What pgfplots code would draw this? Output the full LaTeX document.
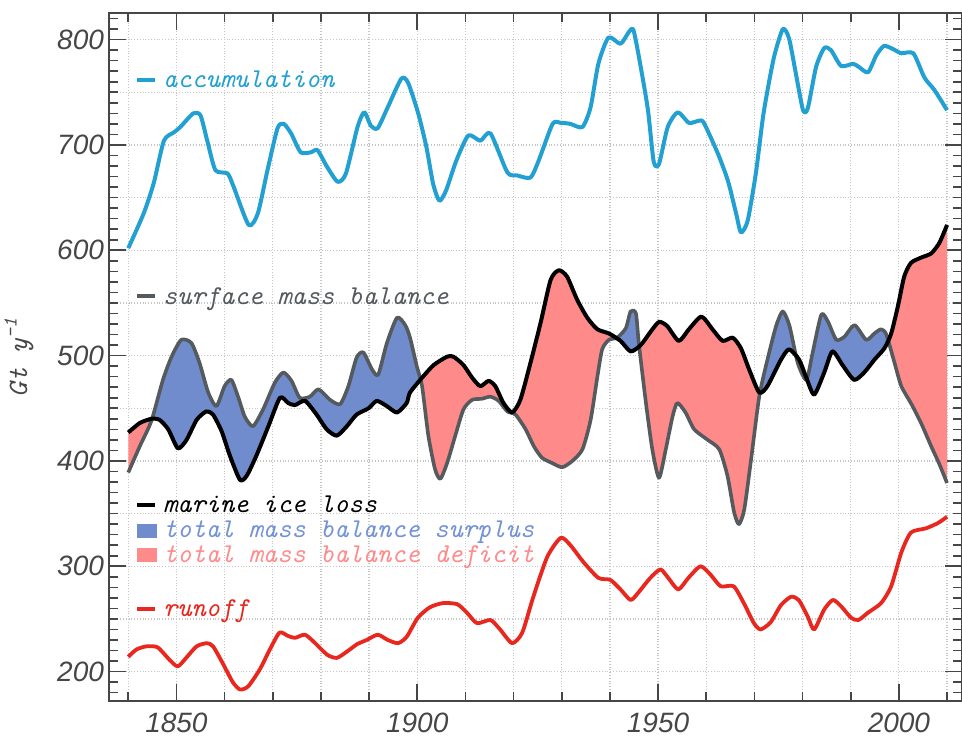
\documentclass[border=0pt]{standalone}
\usepackage{fontspec}
\usepackage{pgfplots}
\pgfplotsset{compat=1.18}
\usepackage{pgfplotstable}
\usepgfplotslibrary{fillbetween}
\newfontfamily\tickfont{Liberation Sans}
\newcommand{\legfont}{\ttfamily\itshape\fontsize{13.6}{16}\selectfont}

\definecolor{accol}{RGB}{35,160,210}
\definecolor{smbcol}{RGB}{85,90,95}
\definecolor{bluefill}{RGB}{112,140,204}
\definecolor{redfill}{RGB}{255,138,138}
\definecolor{runcol}{RGB}{232,40,30}
\definecolor{surptext}{RGB}{115,147,214}
\definecolor{deftext}{RGB}{255,140,140}
\definecolor{axgray}{RGB}{70,70,70}
\definecolor{tickgray}{RGB}{70,70,70}

\pgfplotstableread{
x y
1840 602
1843.2 635
1845.3 664
1847.4 704
1849.5 712
1850.8 717
1853.5 730
1855 728
1856.4 704
1858.1 676
1860.6 673
1861.9 660
1865 624
1866.9 635
1868.9 676
1871 716
1872.3 720
1873.8 711
1875.8 693
1877.9 693
1879.3 695
1881.3 679
1883.5 665
1885.2 673
1887.6 717
1889 731
1890.4 718
1891.8 716
1893.9 736
1896.7 763
1898.1 759
1900.2 730
1901.9 698
1903.3 663
1904.6 647
1906 657
1908.1 685
1910.6 709
1913.1 704
1915.2 711
1918.7 674
1920.8 671
1923.5 669
1925.2 685
1928.1 720
1929.8 721
1931.8 720
1934.3 717
1936 736
1937.6 777
1939.7 802
1942.2 796
1943.9 807
1944.9 809
1946.4 774
1947.9 733
1949.1 684
1950.2 682
1952 717
1954.1 731
1956.4 721
1958.5 723
1959.5 721
1962.4 692
1964.5 666
1966.2 635
1967.2 617
1968.6 628
1970.3 673
1971.9 730
1974 782
1975.9 810
1977.2 801
1978.6 768
1980.1 733
1981.1 735
1982.8 774
1984.5 792
1985.9 790
1988 775
1990.5 777
1991.7 774
1993.6 769
1995.3 785
1996.9 794
1998.8 791
2000.5 787
2003 787
2005.3 764
2007.4 752
2010 733
}\accum

\pgfplotstableread{
x y
1840 389
1842.4 414
1844.8 438
1847.2 477
1849 499
1851 515
1853.1 512
1854.8 493
1856.6 465
1858.3 452
1860 471
1861.4 477
1862.8 461
1864.2 442
1865.9 433
1868 449
1870.4 474
1872.2 484
1873.9 476
1875.6 460
1877.7 461
1879.5 468
1881.9 458
1884 454
1885.7 471
1887.4 498
1888.8 503
1890.6 487
1891.9 482
1893.7 512
1895.8 536
1897.5 529
1898.5 517
1899.9 490
1901 471
1902.3 424
1903.7 392
1904.8 383
1906.2 398
1907.9 424
1909.6 449
1911.4 458
1913.4 459
1915.2 461
1916.9 457
1918.7 447
1920.4 444
1922.5 430
1924.2 414
1925.9 403
1928 398
1930.1 394
1932.2 400
1934.3 411
1936 439
1937.4 480
1938.4 506
1939.8 515
1941.5 517
1943.3 526
1944.3 542
1945.4 540
1946 512
1947.4 458
1948.8 411
1950.2 384
1951.6 411
1953 442
1954 455
1955.7 446
1957.5 430
1960.3 420
1962.7 411
1964.4 386
1965.8 351
1966.8 340
1967.9 354
1969.3 401
1971 461
1972.7 496
1974.5 528
1975.9 542
1977.3 528
1979 493
1980.8 477
1982.1 503
1983.9 539
1985.3 532
1987 515
1988.7 518
1990.8 529
1993.2 515
1994.9 521
1996.3 525
1997.4 520
1999.1 493
2000.5 471
2002.6 454
2004.6 436
2006.7 414
2008.4 397
2010 379
}\smb

\pgfplotstableread{
x y
1840 427
1842.4 436
1844.8 440
1846.5 439
1848.3 430
1850.3 412
1852.1 420
1854.2 439
1856.2 447
1857.6 444
1859.4 428
1861.1 405
1863.2 382
1864.6 386
1866.6 405
1869.1 433
1871.5 460
1873.2 455
1874.6 453
1876.7 457
1879.1 444
1881.2 430
1883.3 424
1885.4 433
1887.4 444
1889.9 450
1891.6 457
1893.7 452
1895.8 446
1897.8 455
1898.5 465
1901 479
1903.4 491
1906.2 499
1907.5 499
1909.6 491
1911.4 479
1913.1 471
1914.8 476
1916.2 471
1917.9 455
1919.7 446
1921.4 458
1923.5 493
1925.6 531
1927.7 572
1929.4 581
1931.1 575
1933.2 553
1935.3 536
1937.4 525
1939.8 521
1942.2 514
1944.3 504
1946.4 510
1948.5 523
1950.2 532
1951.9 528
1954.3 514
1956.4 525
1959 537
1961.3 525
1963.4 514
1965.5 517
1967.2 507
1968.9 487
1971 465
1972.7 471
1975.5 496
1977.2 506
1979.3 496
1980.7 480
1982.4 463
1984.5 484
1986.2 504
1988.3 491
1990.7 477
1992.8 484
1994.9 496
1997 507
1998.4 521
1999.8 547
2001.1 575
2002.5 588
2004.6 593
2006.7 597
2008.4 607
2010 624
}\marine

\pgfplotstableread{
x y
1840 214
1841.7 221
1843.8 224
1846.1 223
1848.6 211
1850.3 205
1852.2 214
1854.2 224
1856.3 227
1857.6 224
1859.6 208
1861.7 190
1863.2 183
1864.9 186
1867.3 202
1869.4 221
1871.4 237
1873.1 234
1874.6 232
1876.7 235
1878.8 227
1881.3 216
1883.3 213
1885.4 219
1887.5 226
1889.5 230
1891.8 235
1893.9 230
1896 227
1897.8 233
1900.1 251
1902.6 261
1905.3 265
1908.3 264
1910.3 256
1912.4 246
1915.2 249
1917.2 240
1919.7 227
1921.8 237
1924.1 271
1927 309
1929.8 327
1931.8 320
1934.5 304
1937.6 289
1940.1 287
1942.2 278
1944.3 268
1945.9 275
1948.4 289
1950.5 297
1952.1 289
1954.2 278
1956.3 289
1958.8 300
1960.9 292
1963 281
1965.7 281
1967.8 265
1969.9 246
1971.3 240
1973.4 247
1975.5 263
1977.6 271
1979.2 268
1981.1 252
1982.4 240
1984.5 259
1986.3 268
1988 262
1990.1 251
1991.6 249
1993.6 256
1996.3 265
1998.4 281
2000.5 313
2002.5 332
2005.6 336
2008.1 341
2010 347
}\runoff

\begin{document}
\begin{tikzpicture}
\begin{axis}[
  name=ax,
  scale only axis,
  width=426.25pt, height=343.9pt,
  xmin=1836, xmax=2013,
  ymin=172, ymax=825,
  xtick={1850,1900,1950,2000},
  minor xtick={1840,1850,...,2010},
  ytick={200,300,...,800},
  minor ytick={180,190,...,820},
  extra y ticks={250,350,450,550,650,750},
  extra y tick labels={},
  extra y tick style={grid=major, major tick length=4.5pt},
  tick pos=both,
  tick align=inside,
  major tick length=8.5pt,
  minor tick length=4.5pt,
  tick style={axgray, line width=0.8pt},
  axis line style={axgray, line width=1pt},
  xmajorgrids, xminorgrids, ymajorgrids,
  major grid style={densely dotted, gray!45, line width=0.6pt},
  minor grid style={densely dotted, gray!45, line width=0.6pt},
  /pgf/number format/assume math mode=true,
  /pgf/number format/1000 sep={},
  ticklabel style={font=\tickfont\itshape\fontsize{14}{14}\selectfont, text=tickgray},
  xticklabel style={yshift=-2.5pt},
  yticklabel style={xshift=1pt},
  ylabel={Gt y\textsuperscript{-1}},
  ylabel style={at={(axis description cs:-0.1056,0.5)}, anchor=center, font=\ttfamily\itshape\fontsize{14}{14}\selectfont, text=tickgray},
  clip=false,
]
\addplot[draw=none, name path=smb, smooth, tension=0.4] table[x=x,y=y]{\smb};
\addplot[draw=none, name path=mar, smooth, tension=0.4] table[x=x,y=y]{\marine};
\addplot[fill=redfill, draw=none] fill between[of=smb and mar];
\addplot[fill=bluefill, draw=none] fill between[of=smb and mar, soft clip={domain=1845:1900.5}];
\addplot[fill=bluefill, draw=none] fill between[of=smb and mar, soft clip={domain=1941.3:1946.1}];
\addplot[fill=bluefill, draw=none] fill between[of=smb and mar, soft clip={domain=1971.2:1978.8}];
\addplot[fill=bluefill, draw=none] fill between[of=smb and mar, soft clip={domain=1981.3:1997.8}];

\addplot[accol, line width=2pt, line join=round, smooth, tension=0.4] table[x=x,y=y]{\accum};
\addplot[smbcol, line width=1.8pt, line join=round, smooth, tension=0.4] table[x=x,y=y]{\smb};
\addplot[black, line width=2pt, line join=round, smooth, tension=0.4] table[x=x,y=y]{\marine};
\addplot[runcol, line width=1.9pt, line join=round, smooth, tension=0.4] table[x=x,y=y]{\runoff};

\node[anchor=base west, inner sep=0, font=\legfont] at (axis cs:1841.74,754.5)
  {\textcolor{accol}{\rule[3pt]{9pt}{2pt}}\hspace{4pt}\textcolor{accol}{accumulation}};
\node[anchor=base west, inner sep=0, font=\legfont] at (axis cs:1841.74,548.9)
  {\textcolor{smbcol}{\rule[3pt]{9pt}{2pt}}\hspace{4pt}\textcolor{smbcol}{surface mass balance}};
\node[anchor=base west, inner sep=0, font=\legfont] at (axis cs:1841.74,350.9)
  {\textcolor{black}{\rule[3pt]{9pt}{2pt}}\hspace{4pt}\textcolor{black}{marine ice loss}};
\node[anchor=base west, inner sep=0, font=\legfont] at (axis cs:1841.74,327.2)
  {\textcolor{bluefill}{\rule{10pt}{7pt}}\hspace{3pt}\textcolor{surptext}{total mass balance surplus}};
\node[anchor=base west, inner sep=0, font=\legfont] at (axis cs:1841.74,304.0)
  {\textcolor{redfill}{\rule{10pt}{7pt}}\hspace{3pt}\textcolor{deftext}{total mass balance deficit}};
\node[anchor=base west, inner sep=0, font=\legfont] at (axis cs:1841.74,252)
  {\textcolor{runcol}{\rule[3pt]{9pt}{2pt}}\hspace{4pt}\textcolor{runcol}{runoff}};
\end{axis}
\pgfresetboundingbox
\path ([xshift=-54.5pt,yshift=-19.5pt]ax.south west) rectangle ([xshift=0.25pt,yshift=6.65pt]ax.north east);
\end{tikzpicture}
\end{document}
